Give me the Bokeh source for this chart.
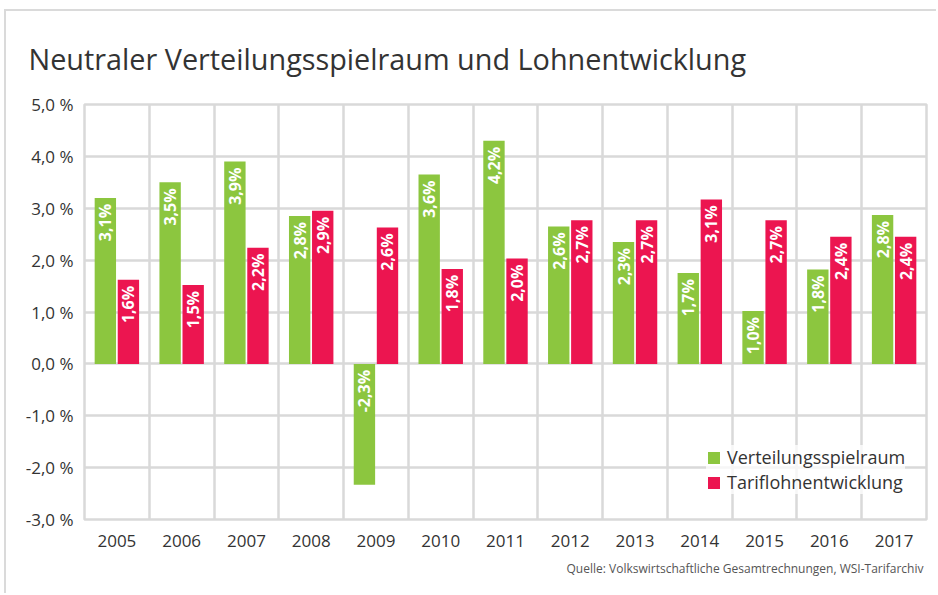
import math
from bokeh.plotting import figure
from bokeh.models import (ColumnDataSource, FixedTicker, Title, Legend, LegendItem)
from bokeh.core.properties import value
from bokeh.embed import file_html
from bokeh.resources import INLINE

# ---- data ----
years = ["2005", "2006", "2007", "2008", "2009", "2010", "2011",
         "2012", "2013", "2014", "2015", "2016", "2017"]
verteilung = [3.2, 3.5, 3.9, 2.85, -2.33, 3.65, 4.3, 2.65, 2.35, 1.75, 1.02, 1.82, 2.87]
tariflohn = [1.62, 1.52, 2.24, 2.95, 2.63, 1.83, 2.03, 2.77, 2.77, 3.17, 2.77, 2.45, 2.45]
verteilung_labels = ["3,1%", "3,5%", "3,9%", "2,8%", "-2,3%", "3,6%", "4,2%",
                     "2,6%", "2,3%", "1,7%", "1,0%", "1,8%", "2,8%"]
tariflohn_labels = ["1,6%", "1,5%", "2,2%", "2,9%", "2,6%", "1,8%", "2,0%",
                    "2,7%", "2,7%", "3,1%", "2,7%", "2,4%", "2,4%"]
y_ticks = [-3, -2, -1, 0, 1, 2, 3, 4, 5]
y_tick_labels = ["-3,0 %", "-2,0 %", "-1,0 %", "0,0 %", "1,0 %", "2,0 %", "3,0 %", "4,0 %", "5,0 %"]
series_names = ["Verteilungsspielraum", "Tariflohnentwicklung"]
title_text = "Neutraler Verteilungsspielraum und Lohnentwicklung"
source_text = "Quelle: Volkswirtschaftliche Gesamtrechnungen, WSI-Tarifarchiv"

GREEN = "#8cc63f"
RED = "#ec1550"
GRID = "#d9d9d9"
TXT = "#333333"
FONT = "Open Sans"

W, H = 932, 584
n = len(years)
centers = [i + 0.5 for i in range(n)]
off = 0.178
bw = 0.33

p = figure(width=W, height=H, output_backend="svg", toolbar_location=None,
           x_range=(0, n), y_range=(-3, 5),
           min_border_left=78, min_border_right=12, min_border_top=93, min_border_bottom=76)
p.title = None
p.outline_line_color = GRID
p.outline_line_width = 2.5
p.background_fill_color = "white"
p.border_fill_color = "white"
p.styles = {"border-top": "2px solid #dadada", "border-left": "2px solid #dadada",
            "margin-left": "4px", "margin-top": "9px"}

# grid
p.xgrid.ticker = FixedTicker(ticks=list(range(n + 1)))
p.ygrid.ticker = FixedTicker(ticks=y_ticks)
for g in (p.xgrid, p.ygrid):
    g.grid_line_color = GRID
    g.grid_line_width = 2.5

# axes
p.xaxis.ticker = FixedTicker(ticks=centers)
p.xaxis.major_label_overrides = {c: y for c, y in zip(centers, years)}
p.yaxis.ticker = FixedTicker(ticks=y_ticks)
p.yaxis.major_label_overrides = {t: l for t, l in zip(y_ticks, y_tick_labels)}
for ax in (p.xaxis, p.yaxis):
    ax.axis_line_color = None
    ax.major_tick_line_color = None
    ax.minor_tick_line_color = None
    ax.major_tick_out = 0
    ax.major_tick_in = 0
    ax.major_label_text_font = FONT
    ax.major_label_text_font_size = "17px"
    ax.major_label_text_color = TXT
p.yaxis.major_label_standoff = 11
p.xaxis.major_label_standoff = 15

src_g = ColumnDataSource(dict(
    x=[c - off for c in centers], top=verteilung,
    ly=[max(v, 0) for v in verteilung], lab=verteilung_labels))
src_r = ColumnDataSource(dict(
    x=[c + off for c in centers], top=tariflohn,
    ly=[max(v, 0) for v in tariflohn], lab=tariflohn_labels))

rg = p.vbar(x="x", top="top", bottom=0, width=bw, color=GREEN, line_color=None, source=src_g)
rr = p.vbar(x="x", top="top", bottom=0, width=bw, color=RED, line_color=None, source=src_r)

for s in (src_g, src_r):
    p.text(x="x", y="ly", text="lab", source=s, angle=math.pi / 2,
           text_align="right", text_baseline="middle", y_offset=6,
           text_color="white", text_font=value(FONT), text_font_size="16px",
           text_font_style="bold")

legend = Legend(items=[LegendItem(label=series_names[0], renderers=[rg]),
                       LegendItem(label=series_names[1], renderers=[rr])],
                location=(622, 25), orientation="vertical",
                glyph_width=15, glyph_height=15, label_standoff=6,
                label_text_font=FONT, label_text_font_size="18px",
                label_text_color=TXT, label_height=20, spacing=1,
                padding=0, margin=0, border_line_color=None,
                background_fill_color="white", background_fill_alpha=0.75)
p.add_layout(legend, "center")

p.add_layout(Title(text=title_text, text_font=FONT, text_font_size="28.8px",
                   text_font_style="normal", text_color=TXT,
                   align="left", vertical_align="top", offset=-56, standoff=50), "above")
p.add_layout(Title(text=source_text, text_font=FONT, text_font_size="12px",
                   text_font_style="normal", text_color="#555555",
                   align="right", offset=3, standoff=17), "below")

with open("out.html", "w") as f:
    f.write(file_html(p, INLINE))
